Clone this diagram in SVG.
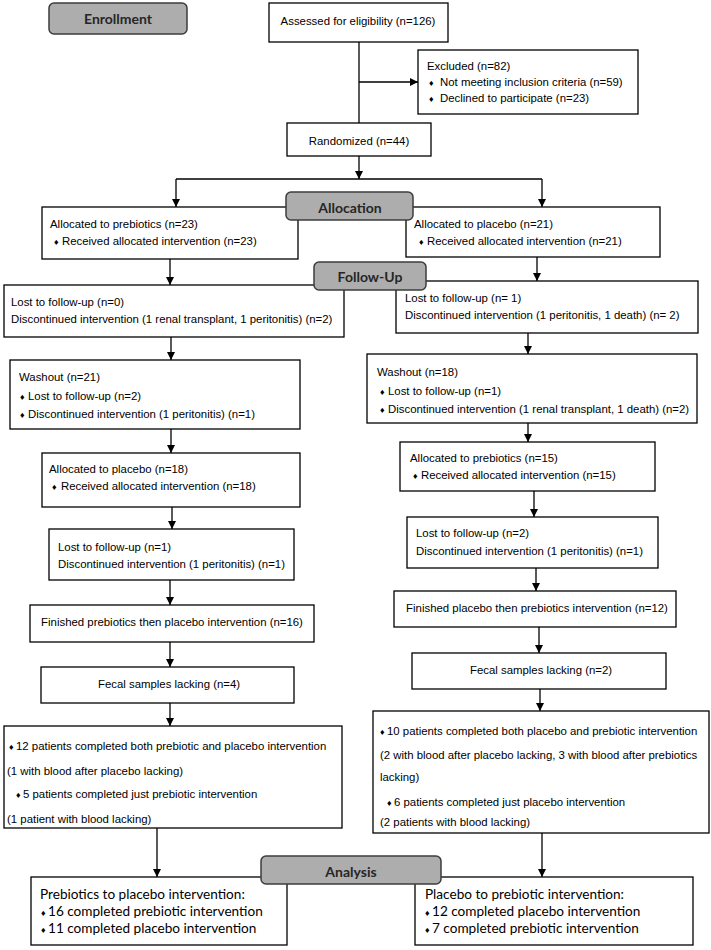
<svg xmlns="http://www.w3.org/2000/svg" width="711" height="950" viewBox="0 0 711 950">
<style>
.box{fill:#fff;stroke:#000;stroke-width:1.3}
.hdr{fill:#adadad;stroke:#3c3c3c;stroke-width:1.5}
.t{font-family:"Liberation Sans Narrow","Liberation Sans",Arial,sans-serif;font-size:11.4px;fill:#000}
.c{text-anchor:middle}
.b{font-size:9px}
.h{font-family:Lato,"Liberation Sans",sans-serif;font-weight:bold;font-size:14px;fill:#262626;text-anchor:middle}
.a{font-family:Lato,"Liberation Sans",sans-serif;font-size:13.6px;fill:#000}
#connectors line{stroke:#000;stroke-width:1.3;fill:none}
#connectors .ar{marker-end:url(#arr)}
</style>
<defs>
<marker id="arr" markerUnits="userSpaceOnUse" markerWidth="8" markerHeight="9" refX="8" refY="4" orient="auto" viewBox="0 0 8 8">
<path d="M0,0 L8,4 L0,8 z" fill="#000"/>
</marker>
</defs>
<rect width="711" height="950" fill="#fff"/>

<g id="connectors">
<line x1="359" y1="42" x2="359" y2="123"/>
<line class="ar" x1="359" y1="82" x2="418" y2="82"/>
<line class="ar" x1="359" y1="156" x2="359" y2="179"/>
<line x1="176" y1="179" x2="542" y2="179"/>
<line class="ar" x1="176" y1="179" x2="176" y2="207"/>
<line class="ar" x1="542" y1="179" x2="542" y2="207"/>
<line class="ar" x1="170" y1="259" x2="170" y2="285"/>
<line class="ar" x1="537" y1="257" x2="537" y2="281"/>
<line class="ar" x1="171" y1="337" x2="171" y2="360"/>
<line class="ar" x1="528" y1="333" x2="528" y2="354"/>
<line class="ar" x1="171" y1="429" x2="171" y2="453"/>
<line class="ar" x1="528" y1="423" x2="528" y2="442"/>
<line class="ar" x1="172" y1="507" x2="172" y2="529"/>
<line class="ar" x1="534" y1="491" x2="534" y2="517"/>
<line class="ar" x1="170" y1="580" x2="170" y2="605"/>
<line class="ar" x1="536" y1="568" x2="536" y2="591"/>
<line class="ar" x1="170" y1="642" x2="170" y2="667"/>
<line class="ar" x1="539" y1="627" x2="539" y2="653"/>
<line class="ar" x1="170" y1="703" x2="170" y2="726"/>
<line class="ar" x1="540" y1="689" x2="540" y2="711"/>
<line class="ar" x1="157" y1="828" x2="157" y2="877"/>
<line class="ar" x1="542" y1="833" x2="542" y2="877"/>
</g>

<g id="enrollment">
<rect class="hdr" x="49" y="3" width="138" height="31" rx="5"/>
<text class="h" x="118" y="24">Enrollment</text>
</g>

<g id="assessed">
<rect class="box" x="269" y="3" width="179" height="39"/>
<text class="t c" x="358" y="25">Assessed for eligibility (n=126)</text>
</g>

<g id="excluded">
<rect class="box" x="418" y="50" width="220" height="64"/>
<text class="t" x="427" y="70">Excluded (n=82)</text>
<text class="t" y="86"><tspan class="b" x="429">♦</tspan><tspan x="440">Not meeting inclusion criteria (n=59)</tspan></text>
<text class="t" y="102"><tspan class="b" x="429">♦</tspan><tspan x="440">Declined to participate (n=23)</tspan></text>
</g>

<g id="randomized">
<rect class="box" x="287" y="123" width="144" height="33"/>
<text class="t c" x="359" y="145">Randomized (n=44)</text>
</g>

<g id="alloc-prebiotics">
<rect class="box" x="42" y="207" width="256" height="52"/>
<text class="t" x="50" y="228">Allocated to prebiotics (n=23)</text>
<text class="t" y="245"><tspan class="b" x="54">♦</tspan><tspan x="62">Received allocated intervention (n=23)</tspan></text>
</g>

<g id="alloc-placebo">
<rect class="box" x="406" y="207" width="254" height="50"/>
<text class="t" x="414" y="228">Allocated to placebo (n=21)</text>
<text class="t" y="245"><tspan class="b" x="419">♦</tspan><tspan x="427">Received allocated intervention (n=21)</tspan></text>
</g>

<g id="allocation">
<rect class="hdr" x="286" y="192" width="127" height="28" rx="5"/>
<text class="h" x="350" y="213">Allocation</text>
</g>

<g id="lost-left-1">
<rect class="box" x="4" y="285" width="340" height="52"/>
<text class="t" x="11" y="306">Lost to follow-up (n=0)</text>
<text class="t" x="11" y="323">Discontinued intervention (1 renal transplant, 1 peritonitis) (n=2)</text>
</g>

<g id="lost-right-1">
<rect class="box" x="396" y="281" width="302" height="52"/>
<text class="t" x="405" y="302">Lost to follow-up (n= 1)</text>
<text class="t" x="405" y="319">Discontinued intervention (1 peritonitis, 1 death) (n= 2)</text>
</g>

<g id="follow-up">
<rect class="hdr" x="314" y="262" width="112" height="28" rx="5"/>
<text class="h" x="370" y="282">Follow-Up</text>
</g>

<g id="washout-left">
<rect class="box" x="10" y="360" width="290" height="69"/>
<text class="t" x="19" y="381">Washout (n=21)</text>
<text class="t" y="400"><tspan class="b" x="20">♦</tspan><tspan x="28">Lost to follow-up (n=2)</tspan></text>
<text class="t" y="418"><tspan class="b" x="20">♦</tspan><tspan x="28">Discontinued intervention (1 peritonitis) (n=1)</tspan></text>
</g>

<g id="washout-right">
<rect class="box" x="367" y="354" width="330" height="69"/>
<text class="t" x="377" y="376">Washout (n=18)</text>
<text class="t" y="395"><tspan class="b" x="380">♦</tspan><tspan x="388">Lost to follow-up (n=1)</tspan></text>
<text class="t" y="413"><tspan class="b" x="380">♦</tspan><tspan x="388">Discontinued intervention (1 renal transplant, 1 death) (n=2)</tspan></text>
</g>

<g id="alloc-placebo-left">
<rect class="box" x="42" y="453" width="258" height="54"/>
<text class="t" x="49" y="473">Allocated to placebo (n=18)</text>
<text class="t" y="490"><tspan class="b" x="52">♦</tspan><tspan x="61">Received allocated intervention (n=18)</tspan></text>
</g>

<g id="alloc-prebiotics-right">
<rect class="box" x="400" y="442" width="255" height="49"/>
<text class="t" x="410" y="462">Allocated to prebiotics (n=15)</text>
<text class="t" y="479"><tspan class="b" x="413">♦</tspan><tspan x="421">Received allocated intervention (n=15)</tspan></text>
</g>

<g id="lost-left-2">
<rect class="box" x="49" y="529" width="245" height="51"/>
<text class="t" x="58" y="551">Lost to follow-up (n=1)</text>
<text class="t" x="58" y="568">Discontinued intervention (1 peritonitis) (n=1)</text>
</g>

<g id="lost-right-2">
<rect class="box" x="407" y="517" width="251" height="51"/>
<text class="t" x="416" y="537">Lost to follow-up (n=2)</text>
<text class="t" x="416" y="555">Discontinued intervention (1 peritonitis) (n=1)</text>
</g>

<g id="finished-left">
<rect class="box" x="30" y="605" width="284" height="37"/>
<text class="t c" x="172" y="626">Finished prebiotics then placebo intervention (n=16)</text>
</g>

<g id="finished-right">
<rect class="box" x="394" y="591" width="282" height="36"/>
<text class="t c" x="537" y="612">Finished placebo then prebiotics intervention (n=12)</text>
</g>

<g id="fecal-left">
<rect class="box" x="41" y="667" width="253" height="36"/>
<text class="t c" x="169" y="688">Fecal samples lacking (n=4)</text>
</g>

<g id="fecal-right">
<rect class="box" x="412" y="653" width="254" height="36"/>
<text class="t c" x="541" y="674">Fecal samples lacking (n=2)</text>
</g>

<g id="completed-left">
<rect class="box" x="4" y="726" width="338" height="102"/>
<text class="t" y="750"><tspan class="b" x="9">♦</tspan><tspan x="16">12 patients completed both prebiotic and placebo intervention</tspan></text>
<text class="t" x="7" y="775">(1 with blood after placebo lacking)</text>
<text class="t" y="798"><tspan class="b" x="16">♦</tspan><tspan x="23">5 patients completed just prebiotic intervention</tspan></text>
<text class="t" x="7" y="823">(1 patient with blood lacking)</text>
</g>

<g id="completed-right">
<rect class="box" x="373" y="711" width="336" height="122"/>
<text class="t" y="735"><tspan class="b" x="380">♦</tspan><tspan x="387">10 patients completed both placebo and prebiotic intervention</tspan></text>
<text class="t" x="380" y="759">(2 with blood after placebo lacking, 3 with blood after prebiotics</text>
<text class="t" x="380" y="781">lacking)</text>
<text class="t" y="806"><tspan class="b" x="387">♦</tspan><tspan x="394">6 patients completed just placebo intervention</tspan></text>
<text class="t" x="380" y="826">(2 patients with blood lacking)</text>
</g>

<g id="analysis-left">
<rect class="box" x="31" y="877" width="256" height="68"/>
<text class="a" x="40" y="899">Prebiotics to placebo intervention:</text>
<text class="a" y="916"><tspan class="b" x="41">♦</tspan><tspan x="48">16 completed prebiotic intervention</tspan></text>
<text class="a" y="933"><tspan class="b" x="41">♦</tspan><tspan x="48">11 completed placebo intervention</tspan></text>
</g>

<g id="analysis-right">
<rect class="box" x="415" y="877" width="278" height="68"/>
<text class="a" x="425" y="899">Placebo to prebiotic intervention:</text>
<text class="a" y="916"><tspan class="b" x="425">♦</tspan><tspan x="432">12 completed placebo intervention</tspan></text>
<text class="a" y="933"><tspan class="b" x="425">♦</tspan><tspan x="432">7 completed prebiotic intervention</tspan></text>
</g>

<g id="analysis">
<rect class="hdr" x="261" y="856" width="180" height="28" rx="5"/>
<text class="h" x="351" y="877">Analysis</text>
</g>
</svg>
